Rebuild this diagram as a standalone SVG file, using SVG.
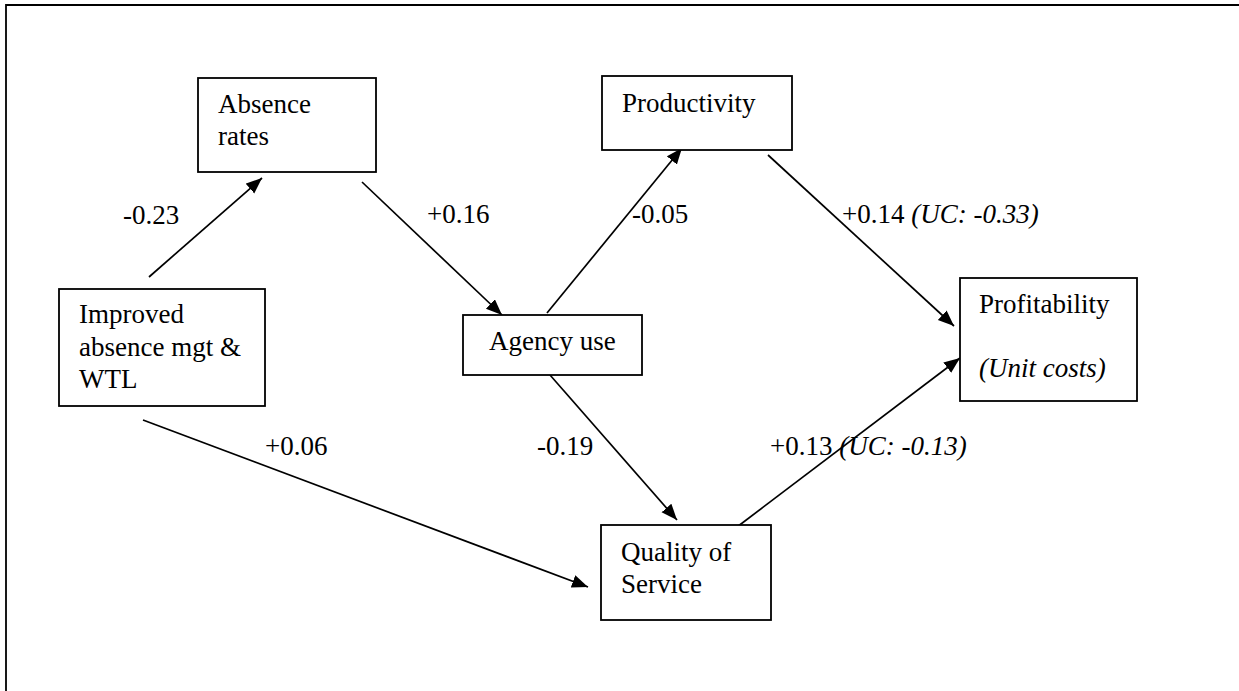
<svg xmlns="http://www.w3.org/2000/svg" width="1239" height="691" viewBox="0 0 1239 691">
  <style>
    .box { fill: #fff; stroke: #000; stroke-width: 1.8; }
    .t { font-family: "Liberation Serif", "Times New Roman", serif; font-size: 27px; fill: #000; }
    .i { font-style: italic; }
    .c { stroke: #000; stroke-width: 1.7; fill: none; marker-end: url(#ah); }
  </style>
  <defs>
    <marker id="ah" markerUnits="userSpaceOnUse" markerWidth="18" markerHeight="16" refX="16" refY="6.5" orient="auto">
      <path d="M0,0 L16,6.5 L0,13 Z" fill="#000"/>
    </marker>
  </defs>
  <rect width="1239" height="691" fill="#fff"/>
  <path d="M6,700 L6,5 L1245,5" fill="none" stroke="#000" stroke-width="1.8"/>

  <g id="connectors">
    <line class="c" x1="149" y1="277" x2="262" y2="178"/>
    <line class="c" x1="362" y1="182" x2="502" y2="315"/>
    <line class="c" x1="547" y1="313" x2="682" y2="148"/>
    <line class="c" x1="768" y1="155" x2="954" y2="326"/>
    <line class="c" x1="550" y1="375" x2="677" y2="520"/>
    <line class="c" x1="737" y1="527" x2="960" y2="358"/>
    <line class="c" x1="143" y1="420" x2="588" y2="587"/>
    <text class="t" x="123" y="224">-0.23</text>
    <text class="t" x="427" y="223">+0.16</text>
    <text class="t" x="632" y="223">-0.05</text>
    <text class="t" x="842" y="223">+0.14 <tspan class="i">(UC: -0.33)</tspan></text>
    <text class="t" x="537" y="455">-0.19</text>
    <text class="t" x="770" y="455">+0.13 <tspan class="i">(UC: -0.13)</tspan></text>
    <text class="t" x="265" y="455">+0.06</text>
  </g>

  <g id="absence">
    <rect class="box" x="198" y="78" width="178" height="94"/>
    <text class="t" x="218" y="113">Absence</text>
    <text class="t" x="218" y="145">rates</text>
  </g>
  <g id="improved">
    <rect class="box" x="59" y="289" width="206" height="117"/>
    <text class="t" x="79" y="323">Improved</text>
    <text class="t" x="79" y="356">absence mgt &amp;</text>
    <text class="t" x="79" y="388">WTL</text>
  </g>
  <g id="agency">
    <rect class="box" x="463" y="315" width="179" height="60"/>
    <text class="t" x="489" y="350">Agency use</text>
  </g>
  <g id="productivity">
    <rect class="box" x="602" y="76" width="190" height="74"/>
    <text class="t" x="622" y="112">Productivity</text>
  </g>
  <g id="profitability">
    <rect class="box" x="960" y="278" width="177" height="123"/>
    <text class="t" x="979" y="313">Profitability</text>
    <text class="t i" x="979" y="377">(Unit costs)</text>
  </g>
  <g id="quality">
    <rect class="box" x="601" y="525" width="170" height="95"/>
    <text class="t" x="621" y="561">Quality of</text>
    <text class="t" x="621" y="593">Service</text>
  </g>
</svg>
